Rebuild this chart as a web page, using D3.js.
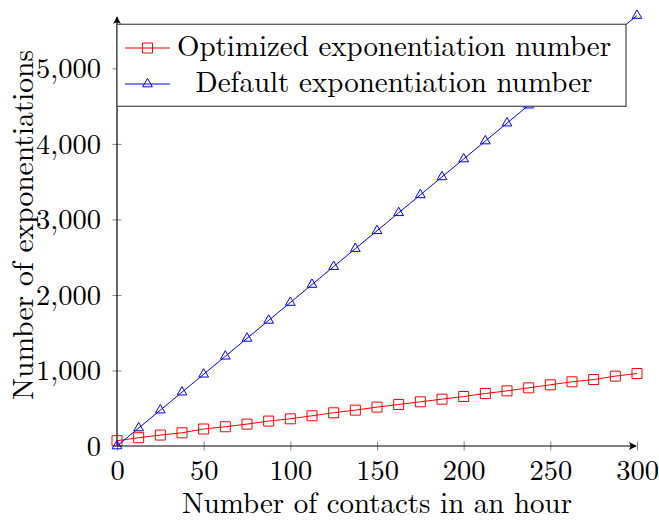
<!DOCTYPE html>
<html><head><meta charset="utf-8">
<script src="https://cdn.jsdelivr.net/npm/d3@7"></script>
<style>body{margin:0;background:#fff}</style>
</head><body><svg id="c" width="659" height="521"></svg>
<script>
const contacts = [0,12.5,25,37.5,50,62.5,75,87.5,100,112.5,125,137.5,150,162.5,175,187.5,200,212.5,225,237.5,250,262.5,275,287.5,300];
const optimized = [70,110,145,175,225,255,290,330,360,400,440,475,515,550,585,620,655,695,730,770,810,850,880,925,960];
const defaults = [0,238,475,713,950,1188,1425,1663,1900,2138,2375,2613,2850,3088,3325,3563,3800,4038,4275,4513,4750,4988,5225,5463,5700];
const xTickValues = [0,50,100,150,200,250,300];
const yTickValues = [0,1000,2000,3000,4000,5000];
const seriesNames = ["Optimized exponentiation number","Default exponentiation number"];
const seriesColors = ["#ff0000","#0000ff"];
const xTitle = "Number of contacts in an hour";
const yTitle = "Number of exponentiations";

const FONT = "'Latin Modern Roman'";
const svg = d3.select("#c");
const x = d3.scaleLinear().domain([0,300]).range([117,637]);
const y = d3.scaleLinear().domain([0,5700]).range([446,15.5]);

const defs = svg.append("defs");
defs.append("marker").attr("id","arr").attr("viewBox","0 0 10 10").attr("refX",9).attr("refY",5)
  .attr("markerWidth",8).attr("markerHeight",8).attr("markerUnits","userSpaceOnUse").attr("orient","auto")
  .append("path").attr("d","M0,0 Q4,5 0,10 L10,5 Z").attr("fill","#000");

// x axis
const gx = svg.append("g").attr("transform",`translate(0,${y(0)})`)
  .call(d3.axisBottom(x).tickValues(xTickValues).tickSize(4.5).tickFormat(d3.format("d")));
gx.attr("font-family",null).attr("font-size",null);
gx.select(".domain").remove();
gx.selectAll(".tick line").attr("y1",-4.5).attr("y2",4.5).attr("stroke","#888").attr("stroke-width",1);
gx.selectAll(".tick text").attr("y",33.5).attr("dy",null)
  .style("font-family",FONT).style("font-size","28.5px").attr("fill","#000");

// y axis
const gy = svg.append("g").attr("transform",`translate(${x(0)},0)`)
  .call(d3.axisLeft(y).tickValues(yTickValues).tickSize(4.5).tickFormat(d3.format(",")));
gy.attr("font-family",null).attr("font-size",null);
gy.select(".domain").remove();
gy.selectAll(".tick line").attr("x1",-4.5).attr("x2",4.5).attr("stroke","#888").attr("stroke-width",1);
gy.selectAll(".tick text").attr("x",-16).attr("dy",null).attr("y",9.5)
  .style("font-family",FONT).style("font-size","28.5px").attr("fill","#000");

// axis lines with arrows
svg.append("line").attr("x1",x(0)).attr("y1",y(0)).attr("x2",x(300)-1).attr("y2",y(0))
  .attr("stroke","#000").attr("stroke-width",1.2).attr("marker-end","url(#arr)");
svg.append("line").attr("x1",x(0)).attr("y1",y(0)).attr("x2",x(0)).attr("y2",17)
  .attr("stroke","#000").attr("stroke-width",1.2).attr("marker-end","url(#arr)");

const sq = "M-5,-5H5V5H-5Z";
const r = 5.6;
const tri = `M0,${-r}L${0.866*r},${0.5*r}L${-0.866*r},${0.5*r}Z`;
const shapes = [sq, tri];
const seriesData = [optimized, defaults];

seriesData.forEach((vals,i)=>{
  const pts = contacts.map((c,j)=>[c,vals[j]]);
  const g = svg.append("g");
  g.append("path").datum(pts).attr("fill","none").attr("stroke",seriesColors[i]).attr("stroke-width",1)
    .attr("d",d3.line().x(d=>x(d[0])).y(d=>y(d[1])));
  g.selectAll("path.m").data(pts).join("path").attr("class","m")
    .attr("transform",d=>`translate(${x(d[0])},${y(d[1])})`)
    .attr("d",shapes[i]).attr("fill","none").attr("stroke",seriesColors[i]).attr("stroke-width",1);
});

// legend
const lg = svg.append("g");
lg.append("rect").attr("x",117).attr("y",24.3).attr("width",509).attr("height",82)
  .attr("fill","#fff").attr("stroke","#555").attr("stroke-width",1.3);
const rowY = [48, 84];
const textLens = [434, 397];
seriesNames.forEach((n,i)=>{
  lg.append("line").attr("x1",125).attr("x2",170).attr("y1",rowY[i]).attr("y2",rowY[i])
    .attr("stroke",seriesColors[i]).attr("stroke-width",1);
  lg.append("path").attr("transform",`translate(147.5,${rowY[i]})`).attr("d",shapes[i])
    .attr("fill","none").attr("stroke",seriesColors[i]).attr("stroke-width",1);
  lg.append("text").attr("x",394).attr("y",rowY[i]+8).attr("text-anchor","middle")
    .style("font-family",FONT).style("font-size","29.5px")
    .attr("textLength",textLens[i]).attr("lengthAdjust","spacingAndGlyphs").text(n);
});

// titles
svg.append("text").attr("x",(x(0)+x(300))/2).attr("y",512.5).attr("text-anchor","middle")
  .style("font-family",FONT).style("font-size","29px")
  .attr("textLength",390).attr("lengthAdjust","spacingAndGlyphs").text(xTitle);
svg.append("text").attr("transform",`translate(33,225) rotate(-90)`).attr("text-anchor","middle")
  .style("font-family",FONT).style("font-size","29.5px").text(yTitle);
</script></body></html>
